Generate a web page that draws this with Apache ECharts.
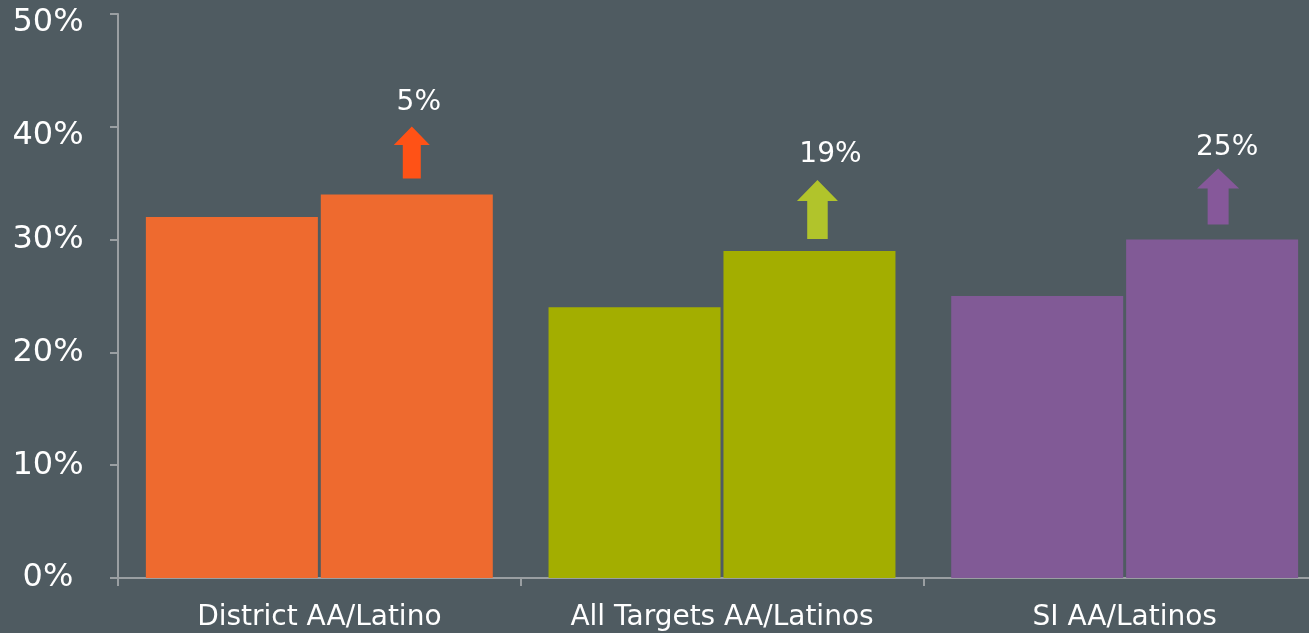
<!DOCTYPE html>
<html>
<head>
<meta charset="utf-8">
<script src="https://cdn.jsdelivr.net/npm/echarts@6/dist/echarts.min.js"></script>
<style>
html,body{margin:0;padding:0;background:#4f5b61;}
#chart{width:1309px;height:633px;}
</style>
</head>
<body>
<div id="chart"></div>
<script>
const categories = ['District AA/Latino', 'All Targets AA/Latinos', 'SI AA/Latinos'];
const beforeValues = [32, 24, 25];
const afterValues = [34, 29, 30];
const increaseLabels = ['5%', '19%', '25%'];
const yTicks = [0, 10, 20, 30, 40, 50];

const barColors = ['#ee6a2f', '#a3ae00', '#815a96'];
const arrowColors = ['#ff5216', '#b1c42b', '#86589a'];
const arrowSizes = [[36, 52], [41, 59], [42, 56]];
const arrowOffsets = [[5, -42], [8, -41.5], [6, -43]];
const labelOffsets = [[7, 0], [13, 0], [9, 0]];
const labelDistances = [10, 11, 7];

const arrowPath = 'path://M0,20 L20,0 L40,20 L30,20 L30,56 L10,56 L10,20 Z';
const FONT = '"DejaVu Sans", Verdana, sans-serif';

const chart = echarts.init(document.getElementById('chart'));
chart.setOption({
  backgroundColor: '#4f5b61',
  animation: false,
  grid: { left: 118, top: 14, bottom: 55, right: -17, outerBoundsMode: 'none', containLabel: false },
  xAxis: {
    type: 'category',
    data: categories,
    axisLine: { lineStyle: { color: '#9a9fa2', width: 2 } },
    axisTick: { show: true, length: 8, lineStyle: { color: '#9a9fa2', width: 2 } },
    axisLabel: { color: '#ffffff', fontSize: 28, fontFamily: FONT, margin: 26 }
  },
  yAxis: {
    type: 'value',
    min: yTicks[0],
    max: yTicks[yTicks.length - 1],
    interval: 10,
    splitLine: { show: false },
    axisLine: { show: true, lineStyle: { color: '#9a9fa2', width: 2 } },
    axisTick: { show: true, length: 8, lineStyle: { color: '#9a9fa2', width: 2 } },
    axisLabel: {
      color: '#ffffff', fontSize: 32, fontFamily: FONT, margin: 70, align: 'center',
      formatter: function (v) { return v >= 40 ? '{hi|' + v + '%}' : v + '%'; },
      rich: { hi: { color: '#ffffff', fontSize: 32, fontFamily: FONT, padding: [18, 0, 0, 0] } }
    }
  },
  series: [
    {
      type: 'bar',
      barWidth: 172,
      barGap: '1.7%',
      silent: true,
      data: beforeValues.map((v, i) => ({ value: v, itemStyle: { color: barColors[i] } }))
    },
    {
      type: 'bar',
      barWidth: 172,
      barGap: '1.7%',
      silent: true,
      data: afterValues.map((v, i) => ({ value: v, itemStyle: { color: barColors[i] } })),
      markPoint: {
        silent: true,
        symbol: arrowPath,
        symbolKeepAspect: false,
        data: afterValues.map((v, i) => ({
          coord: [i, v],
          value: increaseLabels[i],
          symbolSize: arrowSizes[i],
          symbolOffset: arrowOffsets[i],
          itemStyle: { color: arrowColors[i] },
          label: {
            show: true,
            position: 'top',
            distance: labelDistances[i],
            offset: labelOffsets[i],
            color: '#ffffff',
            fontSize: 28,
            fontFamily: FONT,
            formatter: increaseLabels[i]
          }
        }))
      }
    }
  ]
});
</script>
</body>
</html>
